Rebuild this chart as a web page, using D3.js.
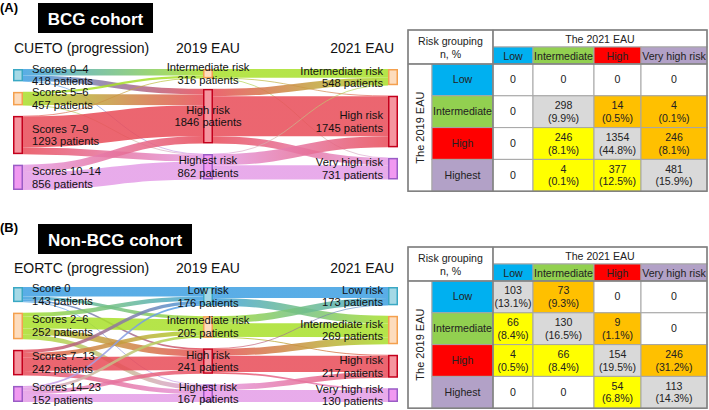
<!DOCTYPE html>
<html>
<head>
<meta charset="utf-8">
<script src="https://cdn.jsdelivr.net/npm/d3@7"></script>
<style>
  body { margin: 0; background: #fff; }
  svg { display: block; font-family: "Liberation Sans", Arial, sans-serif; }
</style>
</head>
<body>
<svg id="chart" width="709" height="410"></svg>
<script>
// ---- data ----
// category index: 0 low, 1 intermediate, 2 high, 3 highest / very high
var bcgScoreNames = ["Scores 0–4", "Scores 5–6", "Scores 7–9", "Scores 10–14"];
var bcgScoreCats = [0, 1, 2, 3];
var bcg2019Names = ["Intermediate risk", "High risk", "Highest risk"];
var bcg2019Cats = [1, 2, 3];
var bcg2021Names = ["Intermediate risk", "High risk", "Very high risk"];
var bcg2021Cats = [1, 2, 3];
// CUETO score group -> 2019 EAU group (estimated from band widths)
var bcgScoreTo2019 = [
  [220, 188, 10],
  [76, 365, 16],
  [20, 1043, 230],
  [0, 250, 606]
];
// 2019 EAU -> 2021 EAU
var bcg2019To2021 = [
  [298, 14, 4],
  [246, 1354, 246],
  [4, 377, 481]
];
var bcgTable = [
  [0, 0, 0, 0],
  [0, 298, 14, 4],
  [0, 246, 1354, 246],
  [0, 4, 377, 481]
];

var nonScoreNames = ["Score 0", "Scores 2–6", "Scores 7–13", "Scores 14–23"];
var nonScoreCats = [0, 1, 2, 3];
var non2019Names = ["Low risk", "Intermediate risk", "High risk", "Highest risk"];
var non2019Cats = [0, 1, 2, 3];
var non2021Names = ["Low risk", "Intermediate risk", "High risk", "Very high risk"];
var non2021Cats = [0, 1, 2, 3];
// EORTC score group -> 2019 EAU group (estimated from band widths)
var nonScoreTo2019 = [
  [90, 30, 15, 8],
  [40, 110, 60, 42],
  [30, 40, 130, 42],
  [16, 25, 36, 75]
];
var non2019To2021 = [
  [103, 73, 0, 0],
  [66, 130, 9, 0],
  [4, 66, 154, 17],
  [0, 0, 54, 113]
];
// table as printed
var nonTable = [
  [103, 73, 0, 0],
  [66, 130, 9, 0],
  [4, 66, 154, 246],
  [0, 0, 54, 113]
];

var tableColNames = ["Low", "Intermediate", "High", "Very high risk"];
var tableRowNames = ["Low", "Intermediate", "High", "Highest"];

// ---- styles ----
var linkColors = ["#3d9fe2", "#a8e02a", "#e84b57", "#e49de7"];
var nodeFill = ["#8fcfe0", "#fdd3ad", "#f27a87", "#ee80ee"];
var nodeStroke = ["#3aa8c4", "#f4a04e", "#c4001c", "#9a5cc6"];
var headColors = ["#00b0f0", "#92d050", "#ff0000", "#b2a1c7"];
var cellColors = { zero: "#ffffff", same: "#d9d9d9", up: "#ffc000", down: "#ffff00" };

var svg = d3.select("#chart");
var defs = svg.append("defs");

function sankey(prefix, cols, flows, top, bottom, xs, titles, titleY) {
  var nodeW = 10, pad = 10.5;
  var nodes = cols.map(function(col, ci) {
    return col.names.map(function(n, i) {
      return { name: n, cat: col.cats[i], col: ci, inL: [], outL: [] };
    });
  });
  var links = [];
  flows.forEach(function(m, ci) {
    m.forEach(function(row, i) {
      row.forEach(function(v, j) {
        if (v > 0) {
          var l = { source: nodes[ci][i], target: nodes[ci + 1][j], value: v };
          links.push(l);
          l.source.outL.push(l);
          l.target.inL.push(l);
        }
      });
    });
  });
  nodes.forEach(function(col) {
    col.forEach(function(n) {
      n.value = Math.max(d3.sum(n.inL, function(l) { return l.value; }),
                         d3.sum(n.outL, function(l) { return l.value; }));
    });
  });
  var total = d3.sum(nodes[0], function(n) { return n.value; });
  var ky = d3.min(nodes, function(col) {
    return (bottom - top - (col.length - 1) * pad) / d3.sum(col, function(n) { return n.value; });
  });
  var y = d3.scaleLinear().domain([0, total]).range([0, total * ky]);

  nodes.forEach(function(col, ci) {
    var y0 = top;
    col.forEach(function(n) {
      n.x0 = xs[ci]; n.x1 = xs[ci] + nodeW;
      n.y0 = y0; n.y1 = y0 + y(n.value);
      y0 = n.y1 + pad;
    });
  });
  nodes.forEach(function(col) {
    col.forEach(function(n) {
      var yy = n.y0;
      n.outL.sort(function(a, b) { return a.target.y0 - b.target.y0; }).forEach(function(l) {
        l.width = y(l.value); l.y0 = yy + l.width / 2; yy += l.width;
      });
    });
  });
  nodes.forEach(function(col) {
    col.forEach(function(n) {
      var yy = n.y0;
      n.inL.sort(function(a, b) { return a.source.y0 - b.source.y0; }).forEach(function(l) {
        l.y1 = yy + l.width / 2; yy += l.width;
      });
    });
  });

  links.forEach(function(l, i) {
    var gr = defs.append("linearGradient").attr("id", prefix + i)
      .attr("gradientUnits", "userSpaceOnUse")
      .attr("x1", l.source.x1).attr("x2", l.target.x0).attr("y1", 0).attr("y2", 0);
    gr.append("stop").attr("offset", "0%").attr("stop-color", linkColors[l.source.cat]);
    gr.append("stop").attr("offset", "100%").attr("stop-color", linkColors[l.target.cat]);
  });

  var g = svg.append("g");
  var linkPath = d3.linkHorizontal()
    .source(function(d) { return [d.source.x1, d.y0]; })
    .target(function(d) { return [d.target.x0, d.y1]; });
  g.append("g").selectAll("path").data(links).join("path")
    .attr("d", linkPath)
    .attr("fill", "none")
    .attr("stroke", function(d, i) { return "url(#" + prefix + i + ")"; })
    .attr("stroke-opacity", 0.85)
    .attr("stroke-width", function(d) { return Math.max(0.8, d.width); });

  var all = d3.merge(nodes);
  g.append("g").selectAll("rect").data(all).join("rect")
    .attr("x", function(d) { return d.x0 + 0.75; })
    .attr("y", function(d) { return d.y0 + 0.75; })
    .attr("width", function(d) { return d.x1 - d.x0 - 1.5; })
    .attr("height", function(d) { return Math.max(1, d.y1 - d.y0 - 1.5); })
    .attr("fill", function(d) { return nodeFill[d.cat]; })
    .attr("fill-opacity", 0.8)
    .attr("stroke", function(d) { return nodeStroke[d.cat]; })
    .attr("stroke-width", 1.5);

  var labX = function(d) { return d.col === 0 ? d.x1 + 9 : d.col === 1 ? (d.x0 + d.x1) / 2 : d.x0 - 5; };
  var lab = g.append("g").attr("font-size", 11.2).attr("fill", "#111")
    .selectAll("text").data(all).join("text")
    .attr("text-anchor", function(d) { return d.col === 0 ? "start" : d.col === 1 ? "middle" : "end"; })
    .attr("x", labX)
    .attr("y", function(d) { return (d.y0 + d.y1) / 2; });
  lab.append("tspan").attr("dy", -2.5).text(function(d) { return d.name; });
  lab.append("tspan").attr("x", labX)
    .attr("dy", 12.8).text(function(d) { return d.value + " patients"; });

  // column titles
  var tg = g.append("g").attr("font-size", 14).attr("fill", "#111");
  tg.append("text").attr("x", xs[0] + 1).attr("y", titleY).text(titles[0]);
  tg.append("text").attr("x", xs[1] + nodeW / 2).attr("y", titleY).attr("text-anchor", "middle").text(titles[1]);
  tg.append("text").attr("x", xs[2] + nodeW - 4).attr("y", titleY).attr("text-anchor", "end").text(titles[2]);
  return total;
}

function panelHead(letter, ly, label, bx, by, bw) {
  svg.append("text").attr("x", 0).attr("y", ly).attr("font-size", 13)
    .attr("font-weight", "bold").text(letter);
  svg.append("rect").attr("x", bx).attr("y", by).attr("width", bw).attr("height", 30).attr("fill", "#000");
  svg.append("text").attr("x", bx + bw / 2).attr("y", by + 22).attr("text-anchor", "middle")
    .attr("font-size", 17).attr("font-weight", "bold").attr("fill", "#fff").text(label);
}

function table(top, data, total) {
  var xe = [408, 432, 493, 533, 594, 641, 707];
  var h1 = 17, h2 = 17, rowH = 31.8;
  var g = svg.append("g").attr("font-size", 10.6).attr("fill", "#222");
  var rowY = d3.scaleBand().domain(d3.range(4)).range([top + h1 + h2, top + h1 + h2 + 4 * rowH]);
  var bottom = top + h1 + h2 + 4 * rowH;
  var line = "#a6a6a6";
  function cell(x0, x1, y0, y1, fill) {
    g.append("rect").attr("x", x0).attr("y", y0).attr("width", x1 - x0).attr("height", y1 - y0)
      .attr("fill", fill).attr("stroke", line).attr("stroke-width", 1);
  }
  function txt(x, yy, s) {
    return g.append("text").attr("x", x).attr("y", yy).attr("text-anchor", "middle").text(s);
  }
  cell(xe[0], xe[2], top, top + h1 + h2, "#fff");
  txt((xe[0] + xe[2]) / 2, top + 15, "Risk grouping");
  txt((xe[0] + xe[2]) / 2, top + 28, "n, %");
  cell(xe[2], xe[6], top, top + h1, "#fff");
  txt((xe[2] + xe[6]) / 2, top + 12.5, "The 2021 EAU");
  tableColNames.forEach(function(n, j) {
    cell(xe[2 + j], xe[3 + j], top + h1, top + h1 + h2, headColors[j]);
    txt((xe[2 + j] + xe[3 + j]) / 2, top + h1 + 12.5, n);
  });
  cell(xe[0], xe[1], top + h1 + h2, bottom, "#fff");
  g.append("text").attr("text-anchor", "middle").attr("font-size", 11)
    .attr("transform", "translate(" + ((xe[0] + xe[1]) / 2 + 4) + "," + ((top + h1 + h2 + bottom) / 2) + ") rotate(-90)")
    .text("The 2019 EAU");
  tableRowNames.forEach(function(n, i) {
    var y0 = rowY(i), y1 = y0 + rowY.bandwidth();
    cell(xe[1], xe[2], y0, y1, headColors[i]);
    txt((xe[1] + xe[2]) / 2, (y0 + y1) / 2 + 3.5, n);
    data[i].forEach(function(v, j) {
      var fill = v === 0 ? cellColors.zero : i === j ? cellColors.same : j > i ? cellColors.up : cellColors.down;
      cell(xe[2 + j], xe[3 + j], y0, y1, fill);
      var cx = (xe[2 + j] + xe[3 + j]) / 2, cy = (y0 + y1) / 2;
      if (v === 0) {
        txt(cx, cy + 3.5, "0");
      } else {
        txt(cx, cy - 2.5, v);
        txt(cx, cy + 10, "(" + d3.format(".1f")(v / total * 100) + "%)");
      }
    });
  });
  g.append("line").attr("x1", xe[0]).attr("x2", xe[6]).attr("y1", top + h1 + h2).attr("y2", top + h1 + h2)
    .attr("stroke", "#7f7f7f").attr("stroke-width", 1.5);
  g.append("line").attr("x1", xe[2]).attr("x2", xe[2]).attr("y1", top).attr("y2", bottom)
    .attr("stroke", "#7f7f7f").attr("stroke-width", 1.5);
  g.append("rect").attr("x", xe[0]).attr("y", top).attr("width", xe[6] - xe[0]).attr("height", bottom - top)
    .attr("fill", "none").attr("stroke", "#7f7f7f").attr("stroke-width", 1.5);
}

// ---- panel A ----
panelHead("(A)", 12, "BCG cohort", 38, 3, 115);
var bcgTotal = sankey("ga",
  [{ names: bcgScoreNames, cats: bcgScoreCats },
   { names: bcg2019Names, cats: bcg2019Cats },
   { names: bcg2021Names, cats: bcg2021Cats }],
  [bcgScoreTo2019, bcg2019To2021], 69, 190, [13, 203, 388],
  ["CUETO (progression)", "2019 EAU", "2021 EAU"], 53);
table(30, bcgTable, bcgTotal);

// ---- panel B ----
panelHead("(B)", 232, "Non-BCG cohort", 38, 224, 154);
var nonTotal = sankey("gb",
  [{ names: nonScoreNames, cats: nonScoreCats },
   { names: non2019Names, cats: non2019Cats },
   { names: non2021Names, cats: non2021Cats }],
  [nonScoreTo2019, non2019To2021], 287, 402, [13, 203, 388],
  ["EORTC (progression)", "2019 EAU", "2021 EAU"], 273);
table(247, nonTable, nonTotal);
</script>
</body>
</html>
